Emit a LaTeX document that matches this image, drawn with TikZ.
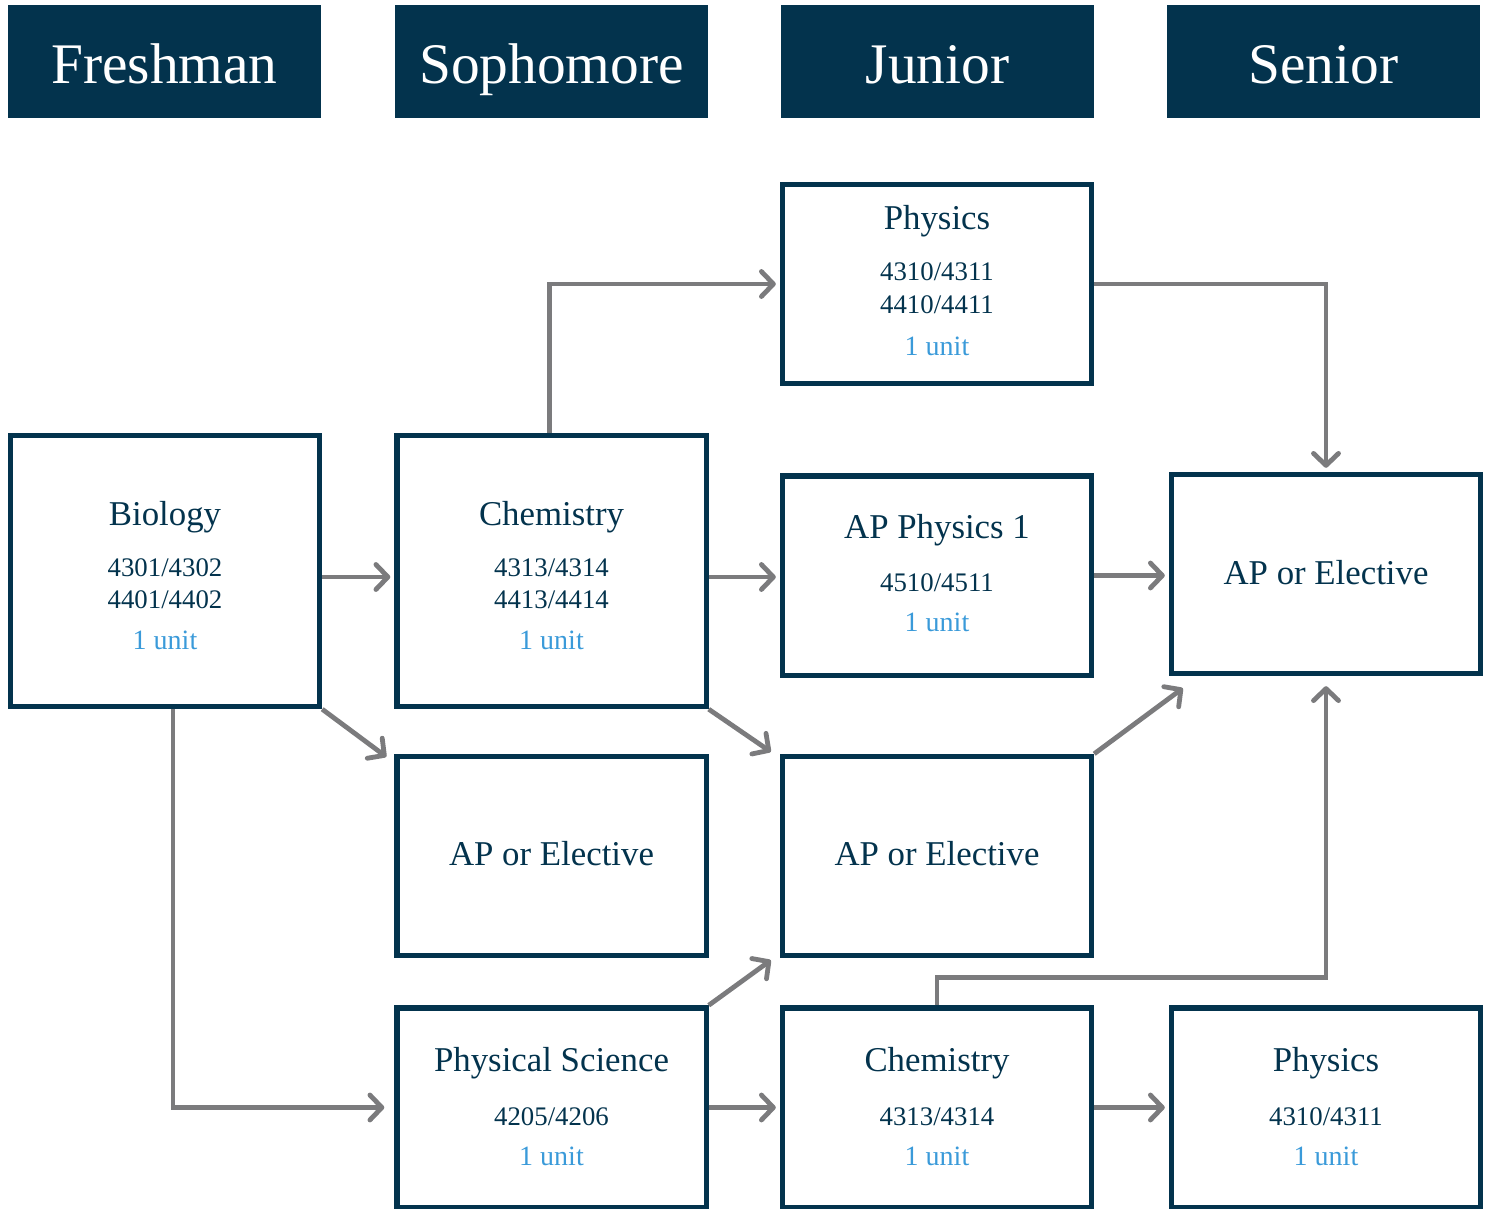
\documentclass[tikz,border=0pt]{standalone}
\usepackage{fontspec}
\setmainfont{Liberation Serif}
\usetikzlibrary{arrows.meta}
\definecolor{navy}{HTML}{03334D}
\definecolor{arrowgray}{HTML}{7B7B7D}
\definecolor{unitblue}{HTML}{3A9AD9}
\begin{document}
\begin{tikzpicture}[x=0.5pt,y=-0.5pt,
	header/.style={fill=navy,minimum width=156.5pt,minimum height=56.5pt,inner sep=0pt},
	hdtext/.style={anchor=base,text=white,font=\fontsize{28.7}{30}\selectfont,inner sep=0pt},
	box/.style={draw=navy,line width=2.6pt,minimum width=154.6pt,inner sep=0pt},
	tall/.style={box,minimum height=135.6pt},
	short/.style={box,minimum height=99.6pt},
	ttl/.style={anchor=base,text=navy,font=\fontsize{17.4}{20}\selectfont,inner sep=0pt},
	code/.style={anchor=base,text=navy,font=\fontsize{13.4}{16}\selectfont,inner sep=0pt},
	unit/.style={anchor=base,text=unitblue,font=\fontsize{14}{16}\selectfont,inner sep=0pt},
	conn/.style={draw=arrowgray,line width=2.4pt,-{Straight Barb[length=6pt,width=12.5pt,round]}}]
	\useasboundingbox (0,0) rectangle (1489,1209);
	% year headers
	\node[header] (fr) at (164.5,61.5) {};
	\node[header] (so) at (551.5,61.5) {};
	\node[header] (ju) at (937.5,61.5) {};
	\node[header] (se) at (1323.5,61.5) {};
	\node[hdtext] (fr-t) at (164.5,84) {Freshman};
	\node[hdtext] (so-t) at (551.5,84) {Sophomore};
	\node[hdtext] (ju-t) at (937.5,84) {Junior};
	\node[hdtext] (se-t) at (1323.5,84) {Senior};
	% course boxes
	\node[tall] (bio) at (165,571) {};
	\node[tall] (chem) at (551.5,571) {};
	\node[short] (phys) at (937,284) {};
	\node[short] (app) at (937,575.5) {};
	\node[short] (sap) at (1326,574) {};
	\node[short] (saps) at (551.5,856) {};
	\node[short] (jap) at (937,856) {};
	\node[short] (psci) at (551.5,1107.5) {};
	\node[short] (chemb) at (937,1107.5) {};
	\node[short] (physb) at (1326,1107.5) {};
	% box texts
	\node[ttl] (bio-t) at (165,525) {Biology};
	\node[code] (bio-c1) at (165,576) {4301/4302};
	\node[code] (bio-c2) at (165,608) {4401/4402};
	\node[unit] (bio-u) at (165,649) {1 unit};
	\node[ttl] (chem-t) at (551.5,525) {Chemistry};
	\node[code] (chem-c1) at (551.5,576) {4313/4314};
	\node[code] (chem-c2) at (551.5,608) {4413/4414};
	\node[unit] (chem-u) at (551.5,649) {1 unit};
	\node[ttl] (phys-t) at (937,230) {Physics};
	\node[code] (phys-c1) at (937,281) {4310/4311};
	\node[code] (phys-c2) at (937,314) {4410/4411};
	\node[unit] (phys-u) at (937,356) {1 unit};
	\node[ttl] (app-t) at (937,538) {AP Physics 1};
	\node[code] (app-c) at (937,591) {4510/4511};
	\node[unit] (app-u) at (937,631) {1 unit};
	\node[ttl] (sap-t) at (1326,584) {AP or Elective};
	\node[ttl] (saps-t) at (551.5,865) {AP or Elective};
	\node[ttl] (jap-t) at (937,865) {AP or Elective};
	\node[ttl] (psci-t) at (551.5,1071) {Physical Science};
	\node[code] (psci-c) at (551.5,1125) {4205/4206};
	\node[unit] (psci-u) at (551.5,1165) {1 unit};
	\node[ttl] (chemb-t) at (937,1071) {Chemistry};
	\node[code] (chemb-c) at (937,1125) {4313/4314};
	\node[unit] (chemb-u) at (937,1165) {1 unit};
	\node[ttl] (physb-t) at (1326,1071) {Physics};
	\node[code] (physb-c) at (1326,1125) {4310/4311};
	\node[unit] (physb-u) at (1326,1165) {1 unit};
	% connectors
	\draw[conn,shorten >=2pt] ([yshift=-3pt]bio.east) -- ([yshift=-3pt]bio.east -| chem.west);
	\draw[conn,shorten >=2pt] ([xshift=-1pt]chem.north) |- (phys.west);
	\draw[conn,shorten >=2pt] ([yshift=-3pt]chem.east) -- ([yshift=-3pt]chem.east -| app.west);
	\draw[conn,shorten >=2pt] (phys.east) -| (sap.north);
	\draw[conn,shorten >=2pt] (app.east) -- (app.east -| sap.west);
	\draw[conn] (bio.south east) -- ([shift={(-8,3)}]saps.north west);
	\draw[conn] (chem.south east) -- ([shift={(-9,-2)}]jap.north west);
	\draw[conn] (jap.north east) -- ([shift={(14,12)}]sap.south west);
	\draw[conn,shorten >=5pt] ([xshift=4pt]bio.south) |- (psci.west);
	\draw[conn] (psci.north east) -- ([shift={(-9,2)}]jap.south west);
	\draw[conn,shorten >=2pt] (psci.east) -- (chemb.west);
	\draw[conn,shorten >=5pt] (chemb.north) -- ++(0,-28) -| (sap.south);
	\draw[conn,shorten >=2pt] (chemb.east) -- (physb.west);
\end{tikzpicture}
\end{document}
